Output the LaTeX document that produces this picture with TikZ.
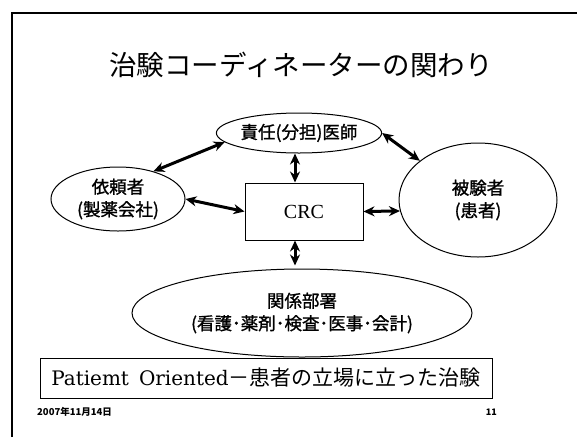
\documentclass[tikz,border=0pt]{standalone}
\usepackage{fontspec}
\setmainfont{Liberation Serif}
\newfontfamily\jp{Noto Sans CJK JP}
\newfontfamily\jpm[FakeBold=1.2]{Noto Sans CJK JP}
\newfontfamily\wideserif{DejaVu Serif}
\usetikzlibrary{shapes.geometric,arrows.meta}
\tikzset{
  oval/.style={draw,ellipse,line width=1pt,inner sep=0pt,align=center,font=\jpm\fontsize{17.5}{22.5}\selectfont},
  dbl/.style={line width=3pt,{Stealth[length=11pt,width=10pt]}-{Stealth[length=11pt,width=10pt]}},
}
\begin{document}
\begin{tikzpicture}[x=1pt,y=-1pt]
\useasboundingbox (0,0) rectangle (577,437);
% frame
\draw[line width=1.8pt] (12,437) -- (12,13) -- (577,13);
% title
\node (title) at (301,65) {\jp\fontsize{27.5}{30}\selectfont 治験コーディネーターの関わり};
% nodes
\node[oval,minimum width=158pt,minimum height=40pt] (doc) at (299,133) {責任(分担)医師};
\node[oval,minimum width=134pt,minimum height=64pt] (sponsor) at (118,199) {依頼者\\(製薬会社)};
\node[oval,minimum width=158pt,minimum height=114pt] (patient) at (478,200) {被験者\\(患者)};
\node[draw,line width=1pt,minimum width=118pt,minimum height=57pt,inner sep=0pt,font=\fontsize{20}{24}\selectfont] (crc) at (304,211.5) {CRC};
\node[oval,minimum width=340pt,minimum height=88pt] (dept) at (302,313) {関係部署\\(看護･薬剤･検査･医事･会計)};
% connectors
\draw[dbl] (sponsor.38) -- (doc.187);
\draw[dbl] (doc.east) -- (patient.146);
\draw[dbl] (sponsor.east) -- (crc.west);
\draw[dbl] (crc.east) -- (patient.188);
\draw[dbl] ([xshift=-9pt]crc.north) -- ([xshift=-9pt]crc.north |- doc.south);
\draw[dbl,shorten >=3pt] ([xshift=-9pt]crc.south) -- ([xshift=-9pt]crc.south |- dept.north);
% bottom banner
\node[draw,line width=1pt,minimum width=452pt,minimum height=40pt,inner sep=0pt] (banner) at (266,378)
  {{\wideserif\fontsize{20}{26}\selectfont Patiemt\hspace{10pt}Oriented}{\jp\fontsize{21}{26}\selectfont －患者の立場に立った治験}};
% footer
\node[anchor=west,inner sep=0pt] (date) at (37,412) {\jp\bfseries\fontsize{9.5}{11}\selectfont 2007年11月14日};
\node[anchor=east,inner sep=0pt] (page) at (497,412) {\jp\bfseries\fontsize{9}{11}\selectfont 11};
\end{tikzpicture}
\end{document}
